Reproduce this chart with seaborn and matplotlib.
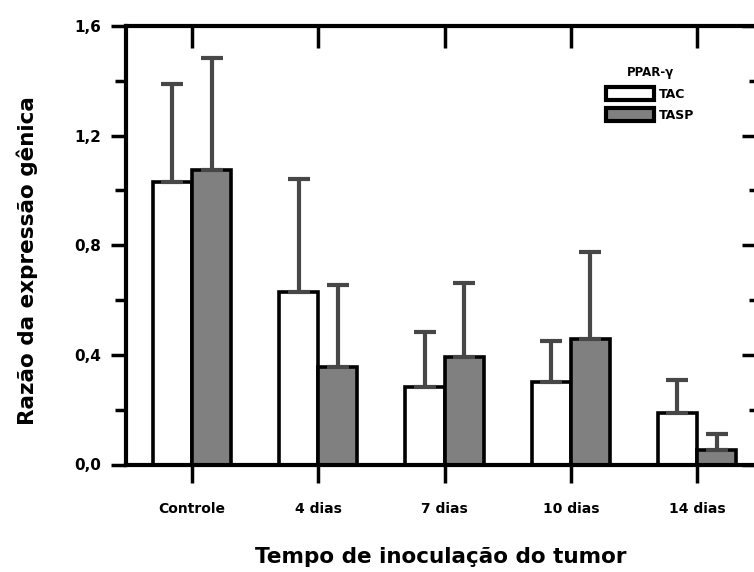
import numpy as np
import pandas as pd
import matplotlib
matplotlib.use("Agg")
import matplotlib.pyplot as plt
from matplotlib.ticker import MultipleLocator, FixedLocator
from matplotlib.patches import Patch
import seaborn as sns

# data
tempos = ["Controle", "4 dias", "7 dias", "10 dias", "14 dias"]
grupos = ["TAC", "TASP"]
media_tac = [1.03, 0.63, 0.284, 0.302, 0.188]
media_tasp = [1.073, 0.355, 0.393, 0.457, 0.053]
erro_tac = [0.36, 0.41, 0.20, 0.15, 0.12]
erro_tasp = [0.41, 0.30, 0.27, 0.32, 0.06]
yticks = [0.0, 0.4, 0.8, 1.2, 1.6]
ytick_labels = ["0,0", "0,4", "0,8", "1,2", "1,6"]

df = pd.DataFrame({
    "tempo": tempos * 2,
    "grupo": [grupos[0]] * len(tempos) + [grupos[1]] * len(tempos),
    "valor": media_tac + media_tasp,
})
erros = {grupos[0]: erro_tac, grupos[1]: erro_tasp}

sns.set_style("ticks")
plt.rcParams["font.family"] = ["DejaVu Sans"]
plt.rcParams["text.color"] = "black"
plt.rcParams["axes.labelcolor"] = "black"
plt.rcParams["xtick.color"] = "black"
plt.rcParams["ytick.color"] = "black"

fig = plt.figure(figsize=(7.54, 5.72), dpi=100)
ax = fig.add_axes([126 / 754, 1 - 464.5 / 572, (756 - 126) / 754, (464.5 - 26) / 572])

sns.barplot(data=df, x="tempo", y="valor", hue="grupo", order=tempos, hue_order=grupos,
            palette=["white", "#808080"], edgecolor="black", linewidth=2.6,
            width=0.62, errorbar=None, ax=ax, legend=False, saturation=1)

# upper-only error bars on top of each bar
for cont, g in zip(ax.containers, grupos):
    xs = [b.get_x() + b.get_width() / 2 for b in cont]
    hs = [b.get_height() for b in cont]
    ax.errorbar(xs, hs, yerr=[np.zeros(len(hs)), erros[g]], fmt="none",
                ecolor="#474747", elinewidth=3, capsize=8, capthick=3, zorder=1)

ax.set_xlim(-0.523, 4.467)
ax.set_ylim(0, 1.6)
ax.yaxis.set_major_locator(FixedLocator(yticks))
ax.yaxis.set_minor_locator(MultipleLocator(0.2))
ax.set_yticklabels(ytick_labels, fontsize=11, fontweight="bold")
ax.set_xticklabels(tempos, fontsize=10, fontweight="bold")

for s in ["left", "bottom", "top", "right"]:
    ax.spines[s].set_visible(True)
    ax.spines[s].set_linewidth(3)
    ax.spines[s].set_color("black")

ax.tick_params(axis="y", which="major", direction="out", length=11, width=2.5,
               left=True, right=True, pad=7)
ax.tick_params(axis="y", which="minor", direction="out", length=8, width=2.5,
               left=True, right=True)
ax.tick_params(axis="y", which="both", labelright=False)
ax.tick_params(axis="x", which="major", direction="out", length=13, width=2.5,
               bottom=True, top=True, pad=14)

# right and top ticks point inward in the original
for t in ax.yaxis.get_major_ticks():
    t.tick2line.set_marker(matplotlib.lines.TICKLEFT)
    t.tick2line.set_markersize(10)
for t in ax.yaxis.get_minor_ticks():
    t.tick2line.set_marker(matplotlib.lines.TICKLEFT)
    t.tick2line.set_markersize(5)
for t in ax.xaxis.get_major_ticks():
    t.tick2line.set_marker(matplotlib.lines.TICKDOWN)
    t.tick2line.set_markersize(16)

ax.set_xlabel("Tempo de inoculação do tumor", fontsize=15.5, fontweight="bold", labelpad=22)
ax.set_ylabel("Razão da expressão gênica", fontsize=15.5, fontweight="bold")
ax.yaxis.set_label_coords(-0.14, 0.466)

# legend
handles = [Patch(facecolor="white", edgecolor="black", linewidth=3),
           Patch(facecolor="#808080", edgecolor="black", linewidth=3)]
leg = ax.legend(handles, grupos, title="PPAR-γ", loc="upper left",
                bbox_to_anchor=(0.752, 0.922), frameon=False, fontsize=9,
                title_fontsize=8.5, handlelength=3.8, handleheight=1.25,
                handletextpad=0.4, labelspacing=0.6, borderpad=0)
leg.get_title().set_fontweight("bold")
for t in leg.get_texts():
    t.set_fontweight("bold")

fig.savefig("out.png", dpi=100)
